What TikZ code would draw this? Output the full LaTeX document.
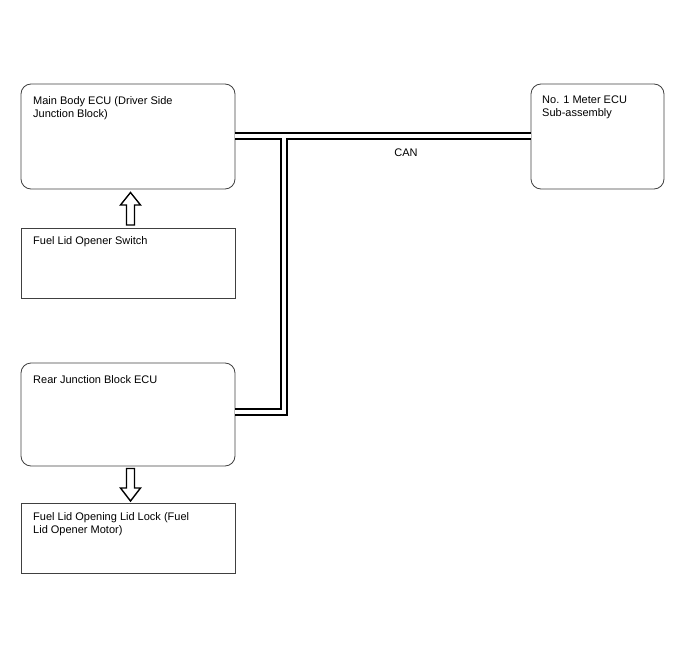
\documentclass[tikz,border=0pt]{standalone}
\usepackage{fontspec}
\setmainfont{Liberation Sans}
\begin{document}
\begin{tikzpicture}[x=1pt,y=-1pt,
  box/.style={draw=black!75, line width=0.8pt},
  rbox/.style={box, rounded corners=10pt},
  lbl/.style={anchor=north west, inner sep=0pt, align=left, font=\fontsize{11}{13}\selectfont},
  bus/.style={draw=black, line width=1.8pt, double=white, double distance=4.5pt},
  blk/.style={draw=black, line width=1.4pt, fill=white}]
\useasboundingbox (0,0) rectangle (688,658);
\path[rbox] (21,84) rectangle (235,189);
\node[lbl] (mb) at (33,96) {Main Body ECU (Driver Side\\Junction Block)};
\coordinate (mbR) at (235,136);
\path[box] (21,228) rectangle (235,298);
\node[lbl] (fs) at (33,236) {Fuel Lid Opener Switch};
\path[rbox] (21,363) rectangle (235,466);
\node[lbl] (rj) at (33,375) {Rear Junction Block ECU};
\coordinate (rjR) at (235,412);
\path[box] (21,503) rectangle (235,573);
\node[lbl] (fl) at (33,512) {Fuel Lid Opening Lid Lock (Fuel\\Lid Opener Motor)};
\path[rbox] (531,84) rectangle (664,189);
\node[lbl] (me) at (542,96) {No. 1 Meter ECU\\Sub-assembly};
\coordinate (meL) at (531,136);
\coordinate (jn) at (284,136);
\node[inner sep=0pt, font=\fontsize{11}{13}\selectfont] (can) at (406,153) {CAN};
\draw[bus] (mbR) -- (meL);
\draw[bus] (rjR) -| (jn);
\draw[draw=white, line width=4.5pt] (280,136) -- (288,136);
% block arrows
\draw[blk] (126.5,225) -- (126.5,205) -- (120.5,205) -- (130.5,192.5) -- (140.5,205) -- (134.5,205) -- (134.5,225) -- cycle;
\draw[blk] (126.5,468.5) -- (126.5,488) -- (120.5,488) -- (130.5,501) -- (140.5,488) -- (134.5,488) -- (134.5,468.5) -- cycle;
\end{tikzpicture}
\end{document}
